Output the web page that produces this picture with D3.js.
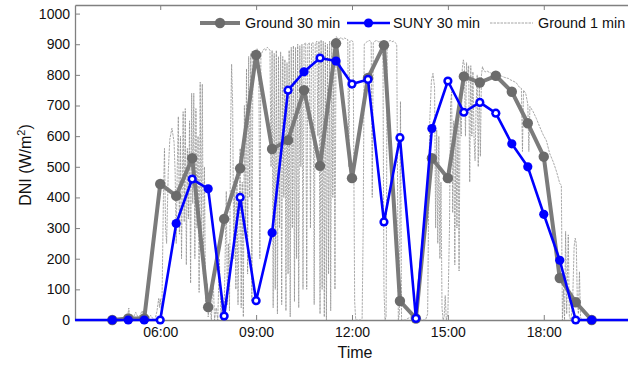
<!DOCTYPE html>
<html>
<head>
<meta charset="utf-8">
<script src="https://cdn.jsdelivr.net/npm/d3@7"></script>
<style>
  body { margin: 0; background: #fff; }
  svg { display: block; font-family: "Liberation Sans", Arial, sans-serif; }
</style>
</head>
<body>
<svg id="chart" width="628" height="365"></svg>
<script>
// ---------------------------------------------------------------------------------------------------------
//                                                 DATA
// ---------------------------------------------------------------------------------------------------------

// half hour stamps, 04:30 .. 19:30
const times30 = [
  "04:30", "05:00", "05:30", "06:00", "06:30", "07:00", "07:30", "08:00", "08:30", "09:00",
  "09:30", "10:00", "10:30", "11:00", "11:30", "12:00", "12:30", "13:00", "13:30", "14:00",
  "14:30", "15:00", "15:30", "16:00", "16:30", "17:00", "17:30", "18:00", "18:30", "19:00", "19:30",
];

const ground30 = [
  0, 5, 5, 444, 405, 528, 42, 330, 495, 865,
  558, 587, 750, 503, 903, 463, 790, 897, 62, 5,
  528, 463, 795, 775, 797, 745, 642, 533, 137, 58, 0,
];

const suny30 = [
  0, 0, 0, 0, 315, 460, 428, 13, 400, 63,
  285, 750, 810, 855, 845, 770, 785, 320, 595, 5,
  625, 780, 678, 710, 675, 575, 500, 345, 195, 0, 0,
];

// satellite points drawn as open rings in the original
const sunyHollow = [
  0, 0, 0, 1, 0, 1, 0, 1, 1, 1,
  0, 1, 0, 1, 0, 1, 1, 1, 1, 1,
  0, 1, 1, 1, 1, 0, 0, 0, 0, 1, 0,
];

const ground1 = [
  [290, 0], [296, 0], [299, 15], [301, 39], [303, 5], [306, 20], [310, 10], [314, 25], [318, 10],
  [322, 15], [326, 30], [330, 10], [334, 20], [338, 5], [342, 15], [346, 5], [350, 0], [354, 30],
  [357, 70], [359, 40], [360, 70], [363, 20], [366, 400], [368, 560], [370, 300], [372, 250],
  [375, 480], [378, 590], [382, 626], [386, 580], [388, 480], [390, 250], [392, 500], [394, 664],
  [396, 280], [398, 600], [400, 200], [403, 680], [405, 320], [407, 690], [409, 180], [411, 560],
  [413, 330], [415, 650], [417, 120], [419, 740], [421, 380], [423, 740], [425, 200], [427, 690],
  [429, 300], [431, 600], [433, 90], [435, 776], [437, 250], [439, 770], [441, 150], [443, 500],
  [445, 60], [448, 120], [450, 10], [453, 60], [456, 0], [459, 150], [462, 0], [465, 40], [468, 0],
  [471, 200], [474, 10], [477, 80], [480, 20], [484, 420], [486, 50], [488, 250], [490, 30],
  [492, 600], [494, 835], [496, 700], [498, 200], [500, 450], [502, 100], [504, 500], [506, 50],
  [508, 300], [510, 560], [512, 40], [514, 450], [516, 10], [518, 700], [520, 300], [522, 820],
  [524, 150], [526, 860], [528, 400], [530, 870], [532, 60], [534, 876], [536, 820], [538, 880],
  [542, 885], [545, 870], [547, 200], [549, 865], [553, 880], [556, 886], [558, 880], [561, 890],
  [564, 885], [566, 880], [568, 500], [570, 880], [572, 40], [574, 870], [576, 100], [578, 880],
  [580, 20], [582, 860], [584, 300], [586, 875], [588, 50], [590, 860], [592, 400], [594, 850],
  [596, 30], [598, 840], [600, 150], [602, 880], [604, 10], [606, 890], [608, 300], [610, 895],
  [612, 60], [614, 890], [616, 200], [618, 900], [620, 40], [622, 895], [624, 500], [626, 900],
  [628, 100], [630, 900], [633, 905], [635, 100], [637, 900], [640, 905], [642, 300], [644, 903],
  [647, 905], [649, 50], [651, 900], [654, 910], [656, 600], [658, 910], [660, 20], [662, 914],
  [664, 100], [666, 910], [668, 10], [670, 905], [672, 0], [674, 900], [676, 150], [678, 910],
  [680, 30], [682, 905], [684, 400], [686, 915], [688, 100], [690, 925], [693, 920], [696, 918],
  [700, 922], [703, 915], [706, 920], [709, 918], [712, 915], [714, 500], [716, 910], [719, 912],
  [722, 908], [725, 60], [727, 0], [730, 0], [733, 0], [736, 0], [739, 5], [741, 300], [743, 900],
  [746, 905], [748, 908], [750, 910], [753, 912], [756, 908], [758, 400], [760, 905], [763, 910],
  [766, 912], [770, 908], [774, 910], [778, 905], [780, 100], [782, 0], [784, 10], [786, 905],
  [789, 910], [792, 912], [795, 908], [798, 910], [801, 905], [804, 900], [806, 300], [807, 0],
  [809, 20], [811, 713], [813, 0], [820, 0], [830, 10], [840, 0], [848, 0], [858, 0], [862, 20],
  [864, 400], [866, 650], [869, 780], [872, 805], [875, 760], [877, 300], [879, 620], [881, 250],
  [883, 600], [885, 200], [887, 450], [889, 40], [891, 0], [893, 10], [895, 80], [897, 0], [900, 20],
  [903, 300], [905, 700], [907, 745], [909, 350], [911, 650], [913, 180], [915, 600], [917, 300],
  [919, 658], [921, 160], [923, 700], [925, 600], [927, 820], [929, 849], [931, 830], [933, 600],
  [935, 840], [937, 780], [939, 830], [941, 450], [943, 830], [945, 600], [947, 810], [949, 600],
  [951, 520], [953, 700], [955, 800], [957, 500], [959, 780], [961, 534], [963, 800], [965, 827],
  [967, 815], [970, 810], [974, 812], [978, 808], [982, 805], [986, 805], [990, 802], [994, 800],
  [998, 798], [1002, 795], [1006, 792], [1010, 790], [1014, 788], [1016, 785], [1022, 780],
  [1028, 775], [1034, 760], [1038, 756], [1040, 550], [1042, 750], [1046, 740], [1050, 705],
  [1052, 550], [1054, 697], [1060, 680], [1066, 658], [1072, 632], [1079, 604], [1085, 585],
  [1091, 544], [1098, 515], [1104, 484], [1110, 446], [1113, 440], [1115, 0], [1117, 100],
  [1119, 0], [1121, 289], [1123, 20], [1126, 278], [1128, 10], [1131, 0], [1134, 50], [1137, 240],
  [1139, 267], [1141, 250], [1143, 60], [1145, 20], [1147, 158], [1149, 10], [1151, 0], [1170, 0],
];

const xTickLabels = ["06:00", "09:00", "12:00", "15:00", "18:00"];
const yTicks = [0, 100, 200, 300, 400, 500, 600, 700, 800, 900, 1000];
const legendLabels = ["Ground 30 min", "SUNY 30 min", "Ground 1 min"];

// ---------------------------------------------------------------------------------------------------------
//                                                 PLOTTING
// ---------------------------------------------------------------------------------------------------------

const margin = { top: 5, left: 75, bottom: 45 };
const width = 628;
const height = 365;
const plotRight = 629; // right frame sits just past the picture edge

const toMin = (s) => +s.slice(0, 2) * 60 + +s.slice(3);

const axisGray = "#808080";
const groundGray = "#7b7b7b";
const groundDot = "#6b6b6b";
const minuteGray = "#8e8e8e";
const blue = "#0000ff";

const svg = d3.select("#chart");

const x = d3.scaleLinear().domain([200, 1240]).range([margin.left, plotRight]);
const y = d3.scaleLinear().domain([0, 1028]).range([height - margin.bottom, margin.top]);

const yBottom = y(0);

// frame + ticks
const gx = svg.append("g")
  .attr("transform", `translate(0,${yBottom})`)
  .call(d3.axisBottom(x)
    .tickValues(xTickLabels.map(toMin))
    .tickFormat((d, i) => xTickLabels[i])
    .tickSizeInner(-5).tickSizeOuter(0).tickPadding(7));

const gxTop = svg.append("g")
  .attr("transform", `translate(0,${margin.top})`)
  .call(d3.axisTop(x)
    .tickValues(xTickLabels.map(toMin))
    .tickFormat("")
    .tickSizeInner(-5).tickSizeOuter(0));

const gy = svg.append("g")
  .attr("transform", `translate(${margin.left},0)`)
  .call(d3.axisLeft(y)
    .tickValues(yTicks)
    .tickFormat(d3.format("d"))
    .tickSizeInner(-5).tickSizeOuter(0).tickPadding(5));

for (const g of [gx, gxTop, gy]) {
  g.select(".domain").attr("stroke", axisGray).attr("stroke-width", 1.3);
  g.selectAll(".tick line").attr("stroke", axisGray).attr("stroke-width", 1);
  g.selectAll(".tick text")
    .attr("fill", "#111")
    .style("font-size", "14px")
    .style("font-family", '"Liberation Sans", Arial, sans-serif');
}

// 1 minute record (thin dashed)
const line1 = d3.line().x((d) => x(d[0])).y((d) => y(d[1]));
svg.append("path")
  .datum(ground1)
  .attr("fill", "none")
  .attr("stroke", minuteGray)
  .attr("stroke-width", 0.75)
  .attr("stroke-dasharray", "2.5,1")
  .attr("d", line1);

// 30 minute ground
const rows = times30.map((t, i) => ({
  t: toMin(t),
  ground: ground30[i],
  suny: suny30[i],
  hollow: sunyHollow[i] === 1,
}));

const lineG = d3.line().x((d) => x(d.t)).y((d) => y(d.ground));
svg.append("path")
  .datum(rows)
  .attr("fill", "none")
  .attr("stroke", groundGray)
  .attr("stroke-width", 4)
  .attr("stroke-linejoin", "round")
  .attr("d", lineG);

svg.append("g")
  .selectAll("circle")
  .data(rows)
  .join("circle")
  .attr("cx", (d) => x(d.t))
  .attr("cy", (d) => y(d.ground))
  .attr("r", 5.2)
  .attr("fill", groundDot);

// satellite, the zero line runs across the whole frame
const [d0, d1] = x.domain();
const sunyLine = [{ t: d0, suny: 0 }, ...rows, { t: d1, suny: 0 }];
const lineS = d3.line().x((d) => x(d.t)).y((d) => y(d.suny));
svg.append("path")
  .datum(sunyLine)
  .attr("fill", "none")
  .attr("stroke", blue)
  .attr("stroke-width", 2.6)
  .attr("stroke-linejoin", "round")
  .attr("d", lineS);

const sDots = svg.append("g");
sDots.selectAll("circle.s")
  .data(rows)
  .join("circle")
  .attr("class", "s")
  .attr("cx", (d) => x(d.t))
  .attr("cy", (d) => y(d.suny))
  .attr("r", 4.6)
  .attr("fill", blue);
sDots.selectAll("circle.h")
  .data(rows.filter((d) => d.hollow))
  .join("circle")
  .attr("class", "h")
  .attr("cx", (d) => x(d.t))
  .attr("cy", (d) => y(d.suny))
  .attr("r", 2.1)
  .attr("fill", "#fff");

// axis titles
svg.append("text")
  .attr("x", 355)
  .attr("y", 358)
  .attr("text-anchor", "middle")
  .style("font-size", "16px")
  .attr("fill", "#111")
  .text("Time");

const yl = svg.append("text")
  .attr("transform", "translate(31,165) rotate(-90)")
  .attr("text-anchor", "middle")
  .style("font-size", "16px")
  .attr("fill", "#111");
yl.append("tspan").text("DNI (W/m");
yl.append("tspan").attr("dy", -6).style("font-size", "11px").text("2");
yl.append("tspan").attr("dy", 6).text(")");

// legend (no box)
const legY = 23;
const leg = svg.append("g").style("font-size", "14.4px");
const legendItems = [
  { x0: 200, x1: 240, tx: 245, kind: "ground" },
  { x0: 347, x1: 390, tx: 393, kind: "suny" },
  { x0: 490, x1: 533, tx: 538, kind: "g1" },
];
legendItems.forEach((it, i) => {
  const ln = leg.append("line")
    .attr("x1", it.x0).attr("x2", it.x1)
    .attr("y1", legY).attr("y2", legY);
  if (it.kind === "ground") {
    ln.attr("stroke", groundGray).attr("stroke-width", 4);
    leg.append("circle").attr("cx", (it.x0 + it.x1) / 2).attr("cy", legY).attr("r", 5.2).attr("fill", groundDot);
  } else if (it.kind === "suny") {
    ln.attr("stroke", blue).attr("stroke-width", 2.6);
    leg.append("circle").attr("cx", (it.x0 + it.x1) / 2).attr("cy", legY).attr("r", 4.6).attr("fill", blue);
  } else {
    ln.attr("stroke", minuteGray).attr("stroke-width", 0.8).attr("stroke-dasharray", "2.5,1");
  }
  leg.append("text")
    .attr("x", it.tx)
    .attr("y", legY)
    .attr("dy", "0.35em")
    .attr("fill", "#111")
    .text(legendLabels[i]);
});
</script>
</body>
</html>
